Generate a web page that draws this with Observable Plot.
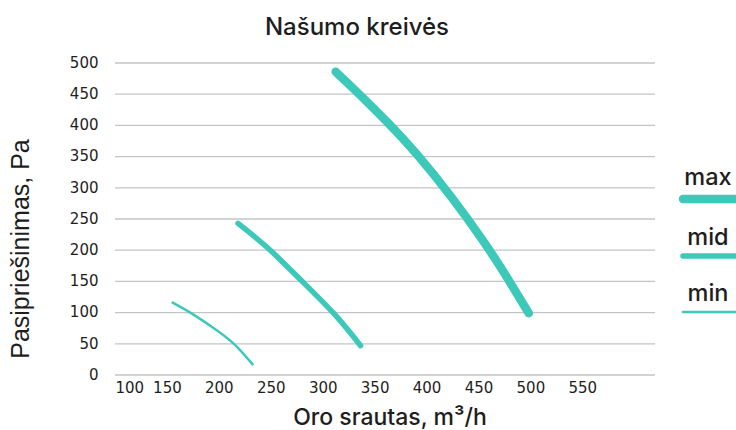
<!DOCTYPE html>
<html>
<head>
<meta charset="utf-8">
<script src="https://cdn.jsdelivr.net/npm/d3@7"></script>
<script src="https://cdn.jsdelivr.net/npm/@observablehq/plot@0.6"></script>
<style>
  html, body { margin: 0; padding: 0; background: #fff; }
  #chart { width: 736px; height: 430px; }
</style>
</head>
<body>
<div id="chart"></div>
<script>
// ---- data ----
const seriesNames = ["max", "mid", "min"];
const maxFlow = [312, 331, 363, 391, 423, 454, 476, 498];
const maxPressure = [486, 456, 403, 352, 286, 215, 159, 99];
const midFlow = [218, 247, 278, 310, 336];
const midPressure = [243, 203, 153, 99, 47];
const minFlow = [155, 172, 193, 214, 232];
const minPressure = [116, 100, 77, 50, 17];
const xTicks = [100, 150, 200, 250, 300, 350, 400, 450, 500, 550];
const yTicks = [0, 50, 100, 150, 200, 250, 300, 350, 400, 450, 500];
const titleText = "Našumo kreivės";
const xLabel = "Oro srautas, m³/h";
const yLabel = "Pasipriešinimas, Pa";

const color = "#3cc9ba";
const widths = {max: 8.5, mid: 5.5, min: 2.5};

const rows = [];
maxFlow.forEach((f, i) => rows.push({series: "max", flow: f, p: maxPressure[i]}));
midFlow.forEach((f, i) => rows.push({series: "mid", flow: f, p: midPressure[i]}));
minFlow.forEach((f, i) => rows.push({series: "min", flow: f, p: minPressure[i]}));

const tickFont = "DejaVu Sans, sans-serif";
const labelFont = "Inter, Roboto, sans-serif";

const plot = Plot.plot({
  width: 736,
  height: 430,
  marginLeft: 115,
  marginRight: 81,
  marginTop: 62.5,
  marginBottom: 55.5,
  style: {fontFamily: tickFont, fontSize: "15px", color: "#1e1e1e", background: "#fff", overflow: "visible"},
  x: {domain: [100, 620]},
  y: {domain: [0, 500]},
  marks: [
    Plot.gridY(yTicks, {stroke: "#c4c4c4", strokeOpacity: 1, strokeWidth: 1.3}),
    Plot.axisY(yTicks, {tickSize: 0, tickPadding: 17, fontSize: 15, label: null}),
    Plot.axisX([xTicks[0]], {tickSize: 0, tickPadding: 7, fontSize: 15, textAnchor: "start", label: null}),
    Plot.axisX(xTicks.slice(1), {tickSize: 0, tickPadding: 7, fontSize: 15, label: null}),
    ...seriesNames.map(s => Plot.line(rows.filter(d => d.series === s), {
      x: "flow", y: "p", stroke: color, strokeWidth: widths[s],
      curve: "natural", strokeLinecap: "round", strokeLinejoin: "round"
    }))
  ]
});
document.getElementById("chart").appendChild(plot);

const svg = d3.select(plot);
svg.append("text")
  .attr("x", 357).attr("y", 35)
  .attr("text-anchor", "middle")
  .attr("font-family", labelFont).attr("font-weight", 500)
  .attr("font-size", 24).attr("fill", "#1e1e1e")
  .text(titleText);

svg.append("text")
  .attr("x", 390).attr("y", 425)
  .attr("text-anchor", "middle")
  .attr("font-family", labelFont).attr("font-weight", 500)
  .attr("font-size", 23).attr("fill", "#1e1e1e")
  .text(xLabel);

svg.append("text")
  .attr("transform", "translate(29,249) rotate(-90)")
  .attr("text-anchor", "middle")
  .attr("font-family", "Liberation Sans, Arial, sans-serif")
  .attr("font-size", 25).attr("fill", "#1e1e1e")
  .text(yLabel);

// legend
const legendY = {max: [185, 199], mid: [245, 256], min: [301, 312]};
seriesNames.forEach(s => {
  svg.append("text")
    .attr("x", 708).attr("y", legendY[s][0])
    .attr("text-anchor", "middle")
    .attr("font-family", labelFont).attr("font-weight", 500)
    .attr("font-size", 23.5).attr("fill", "#1e1e1e")
    .text(s);
  svg.append("line")
    .attr("x1", 683).attr("x2", 745)
    .attr("y1", legendY[s][1]).attr("y2", legendY[s][1])
    .attr("stroke", color).attr("stroke-width", widths[s])
    .attr("stroke-linecap", "round");
});
</script>
</body>
</html>
